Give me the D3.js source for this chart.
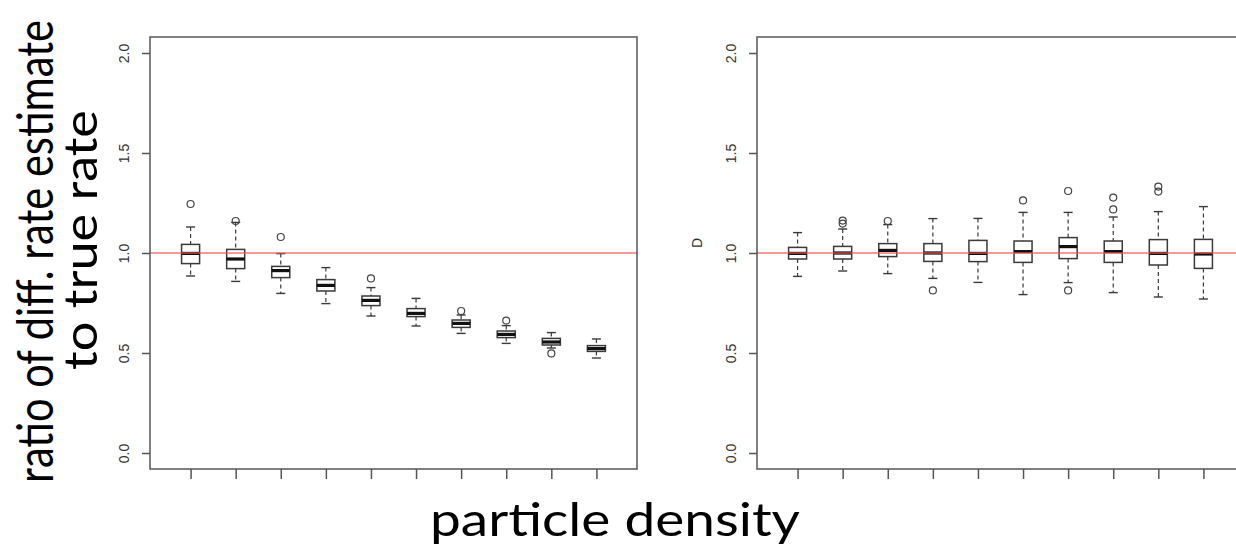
<!DOCTYPE html>
<html>
<head>
<meta charset="utf-8">
<script src="https://cdn.jsdelivr.net/npm/d3@7"></script>
<style>
  body { margin: 0; background: #fff; }
  svg { display: block; }
</style>
</head>
<body>
<div id="wrapper"></div>
<script>
// Data: one box per particle density level

const groups = [1, 2, 3, 4, 5, 6, 7, 8, 9, 10]
const yTicks = [0, 0.5, 1, 1.5, 2]

// left panel (uncorrected estimate)
const leftLow  = [0.885, 0.858, 0.798, 0.747, 0.685, 0.635, 0.598, 0.548, 0.525, 0.475]
const leftQ1   = [0.947, 0.922, 0.877, 0.810, 0.737, 0.682, 0.628, 0.577, 0.540, 0.508]
const leftMed  = [0.998, 0.970, 0.912, 0.838, 0.763, 0.698, 0.648, 0.593, 0.555, 0.522]
const leftQ3   = [1.043, 1.018, 0.933, 0.867, 0.785, 0.722, 0.665, 0.610, 0.573, 0.537]
const leftHigh = [1.130, 1.153, 0.997, 0.927, 0.827, 0.773, 0.690, 0.637, 0.602, 0.570]
const leftOutliers = [[1, 1.245], [2, 1.160], [3, 1.080], [5, 0.873], [7, 0.710], [8, 0.662], [9, 0.498]]

// right panel (corrected estimate)
const rightLow  = [0.883, 0.910, 0.897, 0.873, 0.853, 0.792, 0.852, 0.802, 0.780, 0.770]
const rightQ1   = [0.970, 0.970, 0.982, 0.958, 0.957, 0.953, 0.972, 0.953, 0.940, 0.923]
const rightMed  = [0.998, 1.000, 1.013, 1.000, 0.998, 1.007, 1.032, 1.007, 0.998, 0.995]
const rightQ3   = [1.028, 1.033, 1.047, 1.047, 1.063, 1.060, 1.077, 1.060, 1.067, 1.068]
const rightHigh = [1.102, 1.120, 1.142, 1.172, 1.173, 1.203, 1.203, 1.180, 1.207, 1.232]
const rightOutliers = [[2, 1.162], [2, 1.147], [3, 1.160], [4, 0.813], [6, 1.263], [7, 1.310], [7, 0.813],
    [8, 1.277], [8, 1.218], [9, 1.332], [9, 1.307]]

const trueRatio = 1

function makeBoxes(low, q1, med, q3, high) {
    return groups.map((g, i) => ({g: g, low: low[i], q1: q1[i], med: med[i], q3: q3[i], high: high[i]}))
}

const width = 1236
const height = 547

const wrapper = d3.select("#wrapper")
    .append("svg")
    .attr("width", width)
    .attr("height", height)

const yScale = d3.scaleLinear()
    .domain([-0.08, 2.08])
    .range([469, 37])

function drawPanel(left, boxes, outliers, ylab) {
    const xScale = d3.scaleLinear()
        .domain([0.1, 10.9])
        .range([left, left + 487])

    const panel = wrapper.append("g")

    const boxW = xScale(1.4) - xScale(1)
    const capW = boxW / 2

    const box = panel.append("g")
        .selectAll("g")
        .data(boxes)
        .join("g")
            .attr("stroke", "#3a3a3a")
            .attr("fill", "none")

    // whiskers
    box.append("line")
        .attr("x1", d => xScale(d.g)).attr("x2", d => xScale(d.g))
        .attr("y1", d => yScale(d.high)).attr("y2", d => yScale(d.q3))
        .attr("stroke-width", 1.2)
        .attr("stroke-dasharray", "4,3")
    box.append("line")
        .attr("x1", d => xScale(d.g)).attr("x2", d => xScale(d.g))
        .attr("y1", d => yScale(d.q1)).attr("y2", d => yScale(d.low))
        .attr("stroke-width", 1.2)
        .attr("stroke-dasharray", "4,3")
    // staples
    box.append("line")
        .attr("x1", d => xScale(d.g) - capW / 2).attr("x2", d => xScale(d.g) + capW / 2)
        .attr("y1", d => yScale(d.high)).attr("y2", d => yScale(d.high))
        .attr("stroke-width", 1.4)
    box.append("line")
        .attr("x1", d => xScale(d.g) - capW / 2).attr("x2", d => xScale(d.g) + capW / 2)
        .attr("y1", d => yScale(d.low)).attr("y2", d => yScale(d.low))
        .attr("stroke-width", 1.4)
    // box
    box.append("rect")
        .attr("x", d => xScale(d.g) - boxW / 2)
        .attr("y", d => yScale(d.q3))
        .attr("width", boxW)
        .attr("height", d => yScale(d.q1) - yScale(d.q3))
        .attr("fill", "#fff")
        .attr("stroke-width", 1.5)
    // median
    box.append("line")
        .attr("x1", d => xScale(d.g) - boxW / 2).attr("x2", d => xScale(d.g) + boxW / 2)
        .attr("y1", d => yScale(d.med)).attr("y2", d => yScale(d.med))
        .attr("stroke", "#111")
        .attr("stroke-width", 3.2)

    // outliers
    panel.append("g")
        .selectAll("circle")
        .data(outliers)
        .join("circle")
            .attr("cx", d => xScale(d[0]))
            .attr("cy", d => yScale(d[1]))
            .attr("r", 3.5)
            .attr("fill", "none")
            .attr("stroke", "#444")
            .attr("stroke-width", 1.2)

    // reference line at ratio 1
    panel.append("line")
        .attr("x1", xScale.range()[0]).attr("x2", xScale.range()[1])
        .attr("y1", yScale(trueRatio)).attr("y2", yScale(trueRatio))
        .attr("stroke", "#ee5555")
        .attr("stroke-opacity", 0.6)
        .attr("stroke-width", 2)

    // frame
    panel.append("rect")
        .attr("x", xScale.range()[0])
        .attr("y", yScale.range()[1])
        .attr("width", xScale.range()[1] - xScale.range()[0])
        .attr("height", yScale.range()[0] - yScale.range()[1])
        .attr("fill", "none")
        .attr("stroke", "#555")
        .attr("stroke-width", 1.5)

    // x axis ticks, no labels
    const xAxis = panel.append("g")
        .attr("transform", `translate(0, ${yScale.range()[0]})`)
        .call(d3.axisBottom(xScale).tickValues(groups).tickSize(10).tickFormat(""))
    xAxis.select(".domain").remove()
    xAxis.selectAll("line").attr("stroke", "#555").attr("stroke-width", 1.5)

    // y axis, rotated labels as in R
    const yAxis = panel.append("g")
        .attr("transform", `translate(${xScale.range()[0]}, 0)`)
        .call(d3.axisLeft(yScale).tickValues(yTicks).tickSize(8).tickFormat(d3.format(".1f")))
        .attr("font-size", 14)
        .attr("font-family", "'Liberation Sans', Arial, sans-serif")
    yAxis.select(".domain").remove()
    yAxis.selectAll("line").attr("stroke", "#555").attr("stroke-width", 1.5)
    yAxis.selectAll("text")
        .attr("x", 0)
        .attr("y", -21)
        .attr("dy", 0)
        .attr("transform", "rotate(-90)")
        .attr("text-anchor", "middle")
        .attr("fill", "#333")

    if (ylab) {
        panel.append("text")
            .attr("transform", `translate(${xScale.range()[0] - 55}, ${yScale(trueRatio) - 10}) rotate(-90)`)
            .attr("text-anchor", "middle")
            .attr("fill", "#333")
            .attr("font-family", "'Liberation Sans', Arial, sans-serif")
            .attr("font-size", 14)
            .text(ylab)
    }
}

drawPanel(150, makeBoxes(leftLow, leftQ1, leftMed, leftQ3, leftHigh), leftOutliers, null)
drawPanel(757, makeBoxes(rightLow, rightQ1, rightMed, rightQ3, rightHigh), rightOutliers, "D")

// Big slide labels: scale along the text so it spans the same length as on the slide
const bigFont = "Lato, 'Open Sans', sans-serif"

function bigLabel(x, y, angle, size, span, label) {
    const t = wrapper.append("text")
        .attr("text-anchor", "middle")
        .attr("font-family", bigFont)
        .attr("font-size", size)
        .attr("fill", "#000")
        .text(label)
    const k = span / t.node().getComputedTextLength()
    t.attr("transform", `translate(${x}, ${y}) rotate(${angle}) scale(${k}, 1)`)
}

bigLabel(53, 251.5, -90, 51, 463, "ratio of diff. rate estimate")
bigLabel(97, 240, -90, 46, 260, "to true rate")
bigLabel(615, 536, 0, 47, 370, "particle density")
</script>
</body>
</html>
